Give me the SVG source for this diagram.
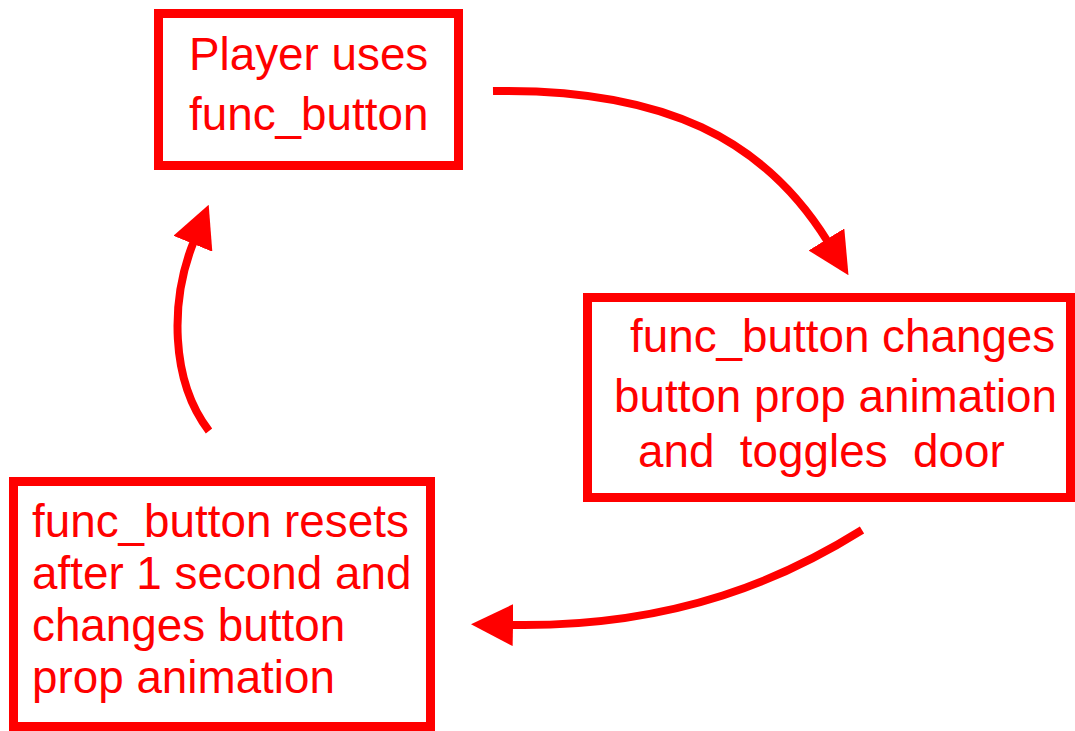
<svg xmlns="http://www.w3.org/2000/svg" width="1075" height="731" viewBox="0 0 1075 731">
<style>
.box{fill:#fff;stroke:#ff0000;stroke-width:9}
.t{font-family:"Liberation Sans",Arial,sans-serif;font-size:45.8px;fill:#ff0000}
.c{fill:none;stroke:#ff0000;stroke-width:8}
</style>
<defs>
<marker id="ah" markerUnits="userSpaceOnUse" markerWidth="42" markerHeight="42" viewBox="0 0 42 42" refX="3" refY="21" orient="auto">
<path d="M0,0 L42,21 L0,42 z" fill="#ff0000"/>
</marker>
</defs>
<rect width="1075" height="731" fill="#fff"/>
<g id="connectors">
<path class="c" d="M493,91 C665,88 765,140 828,242" marker-end="url(#ah)"/>
<path class="c" d="M862,530 C790,575 680,628 510,625" marker-end="url(#ah)"/>
<path class="c" d="M209,431 C170,380 170,300 194,241" marker-end="url(#ah)"/>
</g>
<g id="node1">
<rect class="box" x="158.5" y="13.5" width="300" height="152"/>
<text class="t" x="189" y="70">Player uses</text>
<text class="t" x="189" y="130">func_button</text>
</g>
<g id="node2">
<rect class="box" x="587.5" y="297.5" width="483" height="200"/>
<text class="t" x="630" y="352">func_button changes</text>
<text class="t" x="614" y="412">button prop animation</text>
<text class="t" x="638" y="467" xml:space="preserve">and  toggles  door</text>
</g>
<g id="node3">
<rect class="box" x="13.5" y="481.5" width="417" height="245"/>
<text class="t" x="32" y="537">func_button resets</text>
<text class="t" x="32" y="589">after 1 second and</text>
<text class="t" x="32" y="641">changes button</text>
<text class="t" x="32" y="693">prop animation</text>
</g>
</svg>
